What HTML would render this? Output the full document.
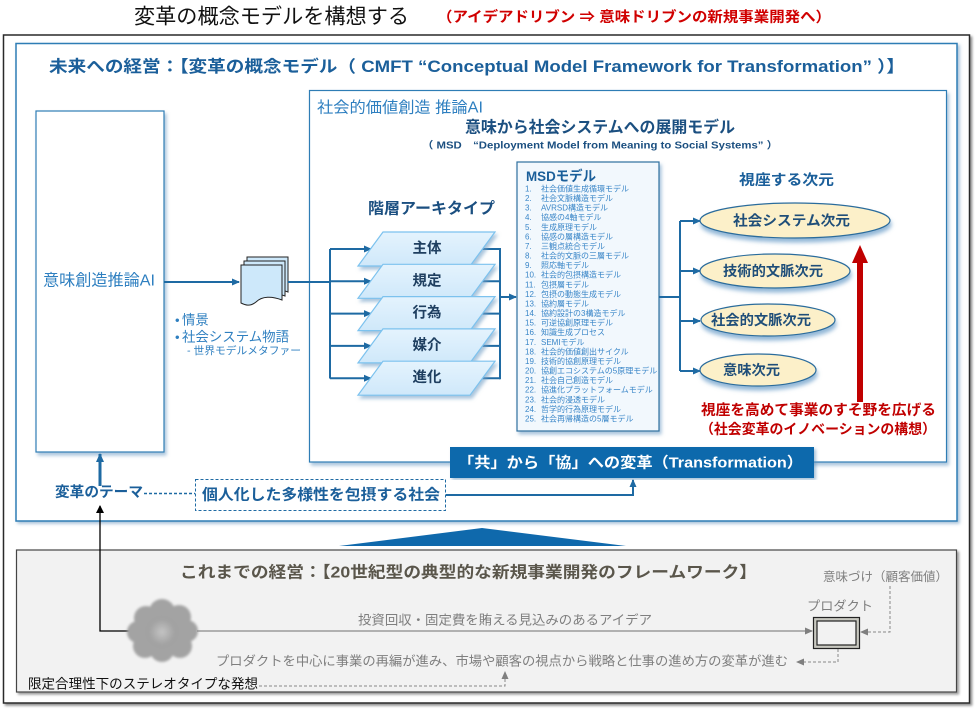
<!DOCTYPE html>
<html lang="ja">
<head>
<meta charset="utf-8">
<style>
  html,body{margin:0;padding:0;background:#fff;}
  body{width:978px;height:712px;overflow:hidden;}
  svg{display:block;}
  text{font-family:"Liberation Sans","Noto Sans CJK JP",sans-serif;}
</style>
</head>
<body>
<svg width="978" height="712" viewBox="0 0 978 712" xmlns="http://www.w3.org/2000/svg">
  <defs>
    <filter id="shBlack" x="-5%" y="-5%" width="110%" height="110%">
      <feDropShadow dx="2" dy="2" stdDeviation="1.2" flood-color="#000" flood-opacity="0.45"/>
    </filter>
    <filter id="shBlue" x="-5%" y="-5%" width="110%" height="110%">
      <feDropShadow dx="2" dy="2" stdDeviation="1.5" flood-color="#5b8fb8" flood-opacity="0.55"/>
    </filter>
    <filter id="shSoft" x="-10%" y="-10%" width="125%" height="130%">
      <feDropShadow dx="2" dy="3" stdDeviation="1.8" flood-color="#6f9ec4" flood-opacity="0.6"/>
    </filter>
    <filter id="shEll" x="-10%" y="-20%" width="125%" height="170%">
      <feDropShadow dx="1" dy="4" stdDeviation="2.2" flood-color="#6d9fc9" flood-opacity="0.75"/>
    </filter>
    <filter id="shGray" x="-5%" y="-5%" width="110%" height="115%">
      <feDropShadow dx="2" dy="2" stdDeviation="1.2" flood-color="#000" flood-opacity="0.4"/>
    </filter>
    <filter id="blur1" x="-20%" y="-20%" width="140%" height="140%">
      <feGaussianBlur stdDeviation="1.2"/>
    </filter>
    <radialGradient id="cg" cx="50%" cy="50%" r="50%">
      <stop offset="0" stop-color="#c4c4c4"/>
      <stop offset="0.6" stop-color="#a8a8a8"/>
      <stop offset="1" stop-color="#9a9a9a" stop-opacity="0"/>
    </radialGradient>
    <linearGradient id="pg" x1="0" y1="0" x2="0" y2="1">
      <stop offset="0" stop-color="#e4f3fd"/>
      <stop offset="1" stop-color="#cfe8fa"/>
    </linearGradient>
    <marker id="ab" markerWidth="8" markerHeight="8" refX="7" refY="4" orient="auto" markerUnits="userSpaceOnUse">
      <path d="M0,0.5 L8,4 L0,7.5 Z" fill="#1e6aa3"/>
    </marker>
    <marker id="ab2" markerWidth="9" markerHeight="9" refX="8" refY="4.5" orient="auto" markerUnits="userSpaceOnUse">
      <path d="M0,0.5 L9,4.5 L0,8.5 Z" fill="#1e6aa3"/>
    </marker>
    <marker id="ak" markerWidth="8" markerHeight="9" refX="7" refY="4.5" orient="auto" markerUnits="userSpaceOnUse">
      <path d="M0,0.5 L8,4.5 L0,8.5 Z" fill="#000"/>
    </marker>
    <marker id="ag" markerWidth="8" markerHeight="8" refX="7" refY="4" orient="auto" markerUnits="userSpaceOnUse">
      <path d="M0,0.5 L8,4 L0,7.5 Z" fill="#7f7f7f"/>
    </marker>
  </defs>

  <!-- Top title -->
  <text x="134" y="17" font-size="21" fill="#111" dominant-baseline="central" textLength="275" lengthAdjust="spacingAndGlyphs">変革の概念モデルを構想する</text>
  <text x="437" y="18" font-size="14.5" font-weight="bold" fill="#d00000" dominant-baseline="central" textLength="394" lengthAdjust="spacingAndGlyphs">（アイデアドリブン ⇒ 意味ドリブンの新規事業開発へ）</text>

  <!-- Outer black frame -->
  <rect x="3.5" y="35" width="966" height="668" fill="#fff" stroke="#2b2b2b" stroke-width="1.5" filter="url(#shBlack)"/>

  <!-- Blue frame (future) -->
  <rect x="16" y="43.5" width="941" height="477.5" fill="#fff" stroke="#2f7db5" stroke-width="1.5" filter="url(#shBlue)"/>

  <text x="49" y="67" font-size="16.5" font-weight="bold" fill="#1b5f9a" dominant-baseline="central" textLength="856" lengthAdjust="spacingAndGlyphs">未来への経営：【変革の概念モデル（ CMFT “Conceptual Model Framework for Transformation” ）】</text>

  <!-- Left box -->
  <rect x="36" y="111" width="128" height="341" fill="#fff" stroke="#2f7db5" stroke-width="1.2" filter="url(#shSoft)"/>
  <text x="43" y="281" font-size="16" fill="#2e7fc0" dominant-baseline="central" textLength="112" lengthAdjust="spacingAndGlyphs">意味創造推論AI</text>

  <!-- Inner box -->
  <rect x="309.5" y="90.5" width="637" height="371.5" fill="#fff" stroke="#2f7db5" stroke-width="1.2" filter="url(#shSoft)"/>
  <text x="317" y="108" font-size="15.5" fill="#2e7fc0" dominant-baseline="central" textLength="166" lengthAdjust="spacingAndGlyphs">社会的価値創造 推論AI</text>
  <text x="465" y="128" font-size="16" font-weight="bold" fill="#1b4f80" dominant-baseline="central" textLength="270" lengthAdjust="spacingAndGlyphs">意味から社会システムへの展開モデル</text>
  <text x="422" y="146" font-size="10" font-weight="bold" fill="#1b4f80" dominant-baseline="central" textLength="356" lengthAdjust="spacingAndGlyphs">（ MSD　“Deployment Model from Meaning to Social Systems” ）</text>

  <!-- Arrow from left box to doc icon -->
  <line x1="164" y1="282" x2="239" y2="282" stroke="#1e6aa3" stroke-width="2" marker-end="url(#ab)"/>

  <!-- Document icon -->
  <g stroke="#222" stroke-width="1" fill="#cde8fa">
    <path d="M247,257 H288 V292 C278,288 268,288 262,294 C256,299 251,297 247,295 Z"/>
    <path d="M244,261 H285 V296 C275,292 265,292 259,298 C253,303 248,301 244,299 Z"/>
    <path d="M241,265 H282 V300 C272,296 262,296 256,302 C250,307 245,305 241,303 Z"/>
  </g>

  <!-- Bullets -->
  <text x="175" y="320" font-size="13" fill="#2e7fc0" dominant-baseline="central">•</text>
  <text x="182" y="320" font-size="13.4" fill="#2e7fc0" dominant-baseline="central">情景</text>
  <text x="175" y="337" font-size="13" fill="#2e7fc0" dominant-baseline="central">•</text>
  <text x="182" y="337" font-size="13.4" fill="#2e7fc0" dominant-baseline="central" textLength="107" lengthAdjust="spacingAndGlyphs">社会システム物語</text>
  <text x="187" y="351" font-size="10.5" fill="#2e7fc0" dominant-baseline="central" textLength="114" lengthAdjust="spacingAndGlyphs">- 世界モデルメタファー</text>

  <!-- Connector doc -> archetypes -->
  <g stroke="#1e6aa3" stroke-width="2" fill="none">
    <line x1="288" y1="282" x2="330" y2="282"/>
    <line x1="330" y1="249" x2="330" y2="378.5"/>
    <line x1="330" y1="249" x2="371" y2="249" marker-end="url(#ab)"/>
    <line x1="330" y1="281.3" x2="371" y2="281.3" marker-end="url(#ab)"/>
    <line x1="330" y1="313.6" x2="371" y2="313.6" marker-end="url(#ab)"/>
    <line x1="330" y1="345.9" x2="371" y2="345.9" marker-end="url(#ab)"/>
    <line x1="330" y1="378.2" x2="371" y2="378.2" marker-end="url(#ab)"/>
  </g>

  <!-- Archetype title -->
  <text x="368" y="209" font-size="15.5" font-weight="bold" fill="#1b4f80" dominant-baseline="central" textLength="127" lengthAdjust="spacingAndGlyphs">階層アーキタイプ</text>

  <!-- right connectors of parallelograms (behind) -->
  <g stroke="#1e6aa3" stroke-width="2" fill="none">
    <line x1="480" y1="249" x2="500" y2="249"/>
    <line x1="480" y1="281.3" x2="500" y2="281.3"/>
    <line x1="480" y1="313.6" x2="500" y2="313.6"/>
    <line x1="480" y1="345.9" x2="500" y2="345.9"/>
    <line x1="480" y1="378.2" x2="500" y2="378.2"/>
    <line x1="500" y1="248" x2="500" y2="379.2"/>
    <line x1="500" y1="297" x2="516" y2="297" marker-end="url(#ab)"/>
  </g>

  <!-- Parallelograms -->
  <g stroke="#7cc2ee" stroke-width="1.2" fill="url(#pg)" filter="url(#shSoft)">
    <polygon points="383,232 495,232 470,266 358,266"/>
    <polygon points="383,264.3 495,264.3 470,298.3 358,298.3"/>
    <polygon points="383,296.6 495,296.6 470,330.6 358,330.6"/>
    <polygon points="383,328.9 495,328.9 470,362.9 358,362.9"/>
    <polygon points="383,361.2 495,361.2 470,395.2 358,395.2"/>
  </g>
  <g font-size="14.5" font-weight="bold" fill="#1f3f60" text-anchor="middle" dominant-baseline="central">
    <text x="427" y="249">主体</text>
    <text x="427" y="281.3">規定</text>
    <text x="427" y="313.6">行為</text>
    <text x="427" y="345.9">媒介</text>
    <text x="427" y="378.2">進化</text>
  </g>

  <!-- MSD box -->
  <rect x="517" y="162" width="142" height="269" fill="#f2f8fd" stroke="#2f6f9f" stroke-width="1.2" filter="url(#shSoft)"/>
  <text x="526" y="176" font-size="14" font-weight="bold" fill="#1b5f9a" dominant-baseline="central" textLength="70" lengthAdjust="spacingAndGlyphs">MSDモデル</text>
  <g font-size="8" fill="#3a86c8" dominant-baseline="central">
    <text x="525" y="189.0">1.</text><text x="541" y="189.0">社会価値生成循環モデル</text>
    <text x="525" y="198.6">2.</text><text x="541" y="198.6">社会文脈構造モデル</text>
    <text x="525" y="208.2">3.</text><text x="541" y="208.2">AVRSD構造モデル</text>
    <text x="525" y="217.7">4.</text><text x="541" y="217.7">協感の4軸モデル</text>
    <text x="525" y="227.3">5.</text><text x="541" y="227.3">生成原理モデル</text>
    <text x="525" y="236.9">6.</text><text x="541" y="236.9">協感の層構造モデル</text>
    <text x="525" y="246.5">7.</text><text x="541" y="246.5">三観点統合モデル</text>
    <text x="525" y="256.1">8.</text><text x="541" y="256.1">社会的文脈の三層モデル</text>
    <text x="525" y="265.6">9.</text><text x="541" y="265.6">照応軸モデル</text>
    <text x="525" y="275.2">10.</text><text x="541" y="275.2">社会的包摂構造モデル</text>
    <text x="525" y="284.8">11.</text><text x="541" y="284.8">包摂層モデル</text>
    <text x="525" y="294.4">12.</text><text x="541" y="294.4">包摂の動態生成モデル</text>
    <text x="525" y="304.0">13.</text><text x="541" y="304.0">協約層モデル</text>
    <text x="525" y="313.5">14.</text><text x="541" y="313.5">協約設計の3構造モデル</text>
    <text x="525" y="323.1">15.</text><text x="541" y="323.1">可逆協創原理モデル</text>
    <text x="525" y="332.7">16.</text><text x="541" y="332.7">知識生成プロセス</text>
    <text x="525" y="342.3">17.</text><text x="541" y="342.3">SEMIモデル</text>
    <text x="525" y="351.9">18.</text><text x="541" y="351.9">社会的価値創出サイクル</text>
    <text x="525" y="361.4">19.</text><text x="541" y="361.4">技術的協創原理モデル</text>
    <text x="525" y="371.0">20.</text><text x="541" y="371.0">協創エコシステムの5原理モデル</text>
    <text x="525" y="380.6">21.</text><text x="541" y="380.6">社会自己創造モデル</text>
    <text x="525" y="390.2">22.</text><text x="541" y="390.2">協進化プラットフォームモデル</text>
    <text x="525" y="399.8">23.</text><text x="541" y="399.8">社会的浸透モデル</text>
    <text x="525" y="409.3">24.</text><text x="541" y="409.3">哲学的行為原理モデル</text>
    <text x="525" y="418.9">25.</text><text x="541" y="418.9">社会再帰構造の5層モデル</text>
  </g>

  <!-- MSD -> dimensions connectors -->
  <g stroke="#1e6aa3" stroke-width="2" fill="none">
    <line x1="659" y1="297" x2="680" y2="297"/>
    <line x1="680" y1="221" x2="680" y2="371"/>
    <line x1="680" y1="221" x2="700" y2="221" marker-end="url(#ab)"/>
    <line x1="680" y1="271" x2="700" y2="271" marker-end="url(#ab)"/>
    <line x1="680" y1="321" x2="700" y2="321" marker-end="url(#ab)"/>
    <line x1="680" y1="371" x2="700" y2="371" marker-end="url(#ab)"/>
  </g>

  <text x="739" y="181" font-size="14.5" font-weight="bold" fill="#1b5f9a" dominant-baseline="central" textLength="95" lengthAdjust="spacingAndGlyphs">視座する次元</text>

  <!-- Ellipses -->
  <g fill="#fcf0c9" stroke="#2c6c9c" stroke-width="1.2" filter="url(#shEll)">
    <ellipse cx="795" cy="220.5" rx="95" ry="17.5"/>
    <ellipse cx="775" cy="271" rx="75" ry="17"/>
    <ellipse cx="768" cy="320" rx="67" ry="16"/>
    <ellipse cx="758" cy="370" rx="58" ry="16"/>
  </g>
  <g font-size="14" font-weight="bold" fill="#1f4e79" dominant-baseline="central">
    <text x="733" y="220.5" textLength="117" lengthAdjust="spacingAndGlyphs">社会システム次元</text>
    <text x="723" y="271" textLength="100" lengthAdjust="spacingAndGlyphs">技術的文脈次元</text>
    <text x="711" y="320" textLength="100" lengthAdjust="spacingAndGlyphs">社会的文脈次元</text>
    <text x="723" y="370" textLength="57" lengthAdjust="spacingAndGlyphs">意味次元</text>
  </g>

  <!-- Red arrow -->
  <rect x="857" y="261" width="6" height="141" fill="#c00000"/>
  <polygon points="852,263 868,263 860,245" fill="#c00000"/>
  <text x="701" y="411" font-size="14.5" font-weight="bold" fill="#c00000" dominant-baseline="central" textLength="235" lengthAdjust="spacingAndGlyphs">視座を高めて事業のすそ野を広げる</text>
  <text x="700" y="429" font-size="14" font-weight="bold" fill="#c00000" dominant-baseline="central" textLength="236" lengthAdjust="spacingAndGlyphs">（社会変革のイノベーションの構想）</text>

  <!-- Banner -->
  <rect x="450" y="447" width="364" height="31" fill="#0f69ac" filter="url(#shBlue)"/>
  <text x="458" y="463" font-size="15" font-weight="bold" fill="#fff" dominant-baseline="central" textLength="345" lengthAdjust="spacingAndGlyphs">「共」から「協」への変革（Transformation）</text>

  <!-- Dashed box and connectors -->
  <rect x="195.5" y="479.5" width="250" height="31" fill="#fff" stroke="#1e6aa3" stroke-width="1" stroke-dasharray="3,2"/>
  <text x="202" y="495" font-size="15" font-weight="bold" fill="#1b5f9a" dominant-baseline="central" textLength="238" lengthAdjust="spacingAndGlyphs">個人化した多様性を包摂する社会</text>
  <polyline points="446,495 633,495 633,480" fill="none" stroke="#1e6aa3" stroke-width="2" marker-end="url(#ab)"/>

  <text x="55" y="493" font-size="14.5" font-weight="bold" fill="#1b5f9a" dominant-baseline="central" textLength="88" lengthAdjust="spacingAndGlyphs">変革のテーマ</text>
  <line x1="144" y1="493.5" x2="195" y2="493.5" stroke="#1e6aa3" stroke-width="1.5" stroke-dasharray="3,2"/>
  <line x1="100" y1="486" x2="100" y2="454" stroke="#1e6aa3" stroke-width="3" marker-end="url(#ab2)"/>

  <!-- Big triangle -->
  <polygon points="482,528 626,546 339,546" fill="#0f69ac"/>

  <!-- Bottom gray box -->
  <rect x="16.5" y="550" width="940" height="142" fill="#f2f2f2" stroke="#444" stroke-width="1.2" filter="url(#shGray)"/>

  <text x="180" y="573" font-size="16" font-weight="bold" fill="#5a564b" dominant-baseline="central" textLength="577" lengthAdjust="spacingAndGlyphs">これまでの経営：【20世紀型の典型的な新規事業開発のフレームワーク】</text>

  <!-- black connector from cloud to theme -->
  <polyline points="132,631 100,631 100,506" fill="none" stroke="#000" stroke-width="1.3" marker-end="url(#ak)"/>

  <!-- Cloud -->
  <g filter="url(#blur1)">
    <g fill="#a3a3a3">
      <circle cx="146" cy="618" r="12"/>
      <circle cx="162" cy="612" r="13"/>
      <circle cx="179" cy="617" r="12"/>
      <circle cx="187" cy="631" r="11"/>
      <circle cx="180" cy="646" r="12"/>
      <circle cx="162" cy="650" r="12"/>
      <circle cx="145" cy="646" r="12"/>
      <circle cx="138" cy="632" r="11"/>
      <circle cx="162" cy="632" r="20"/>
    </g>
    <circle cx="162" cy="632" r="17" fill="url(#cg)"/>
  </g>

  <!-- gray line cloud -> product -->
  <line x1="197" y1="631" x2="812" y2="631" stroke="#8a8a8a" stroke-width="1.2" marker-end="url(#ag)"/>
  <text x="358" y="620" font-size="13.3" fill="#7f7f7f" dominant-baseline="central" textLength="294" lengthAdjust="spacingAndGlyphs">投資回収・固定費を賄える見込みのあるアイデア</text>

  <!-- Product box -->
  <rect x="813.5" y="617.5" width="46" height="31" fill="#c8c8c0" stroke="#222" stroke-width="1.2"/>
  <rect x="817" y="621" width="39" height="24" fill="#f2f2f2" stroke="#222" stroke-width="1.2"/>
  <text x="807" y="606" font-size="13" fill="#7f7f7f" dominant-baseline="central" textLength="66" lengthAdjust="spacingAndGlyphs">プロダクト</text>
  <text x="823" y="577" font-size="12.5" fill="#7f7f7f" dominant-baseline="central" textLength="125" lengthAdjust="spacingAndGlyphs">意味づけ（顧客価値）</text>

  <!-- dashed gray connectors -->
  <polyline points="890,586 890,632 861,632" fill="none" stroke="#888" stroke-width="1" stroke-dasharray="3,2" marker-end="url(#ag)"/>
  <polyline points="838,649 838,662 797,662" fill="none" stroke="#888" stroke-width="1" stroke-dasharray="3,2" marker-end="url(#ag)"/>
  <text x="216" y="661" font-size="13.3" fill="#7f7f7f" dominant-baseline="central" textLength="572" lengthAdjust="spacingAndGlyphs">プロダクトを中心に事業の再編が進み、市場や顧客の視点から戦略と仕事の進め方の変革が進む</text>

  <text x="28" y="684" font-size="13.5" fill="#111" dominant-baseline="central" textLength="230" lengthAdjust="spacingAndGlyphs">限定合理性下のステレオタイプな発想</text>
  <polyline points="259,686 505,686 505,672" fill="none" stroke="#888" stroke-width="1" stroke-dasharray="3,2" marker-end="url(#ag)"/>
</svg>
</body>
</html>
